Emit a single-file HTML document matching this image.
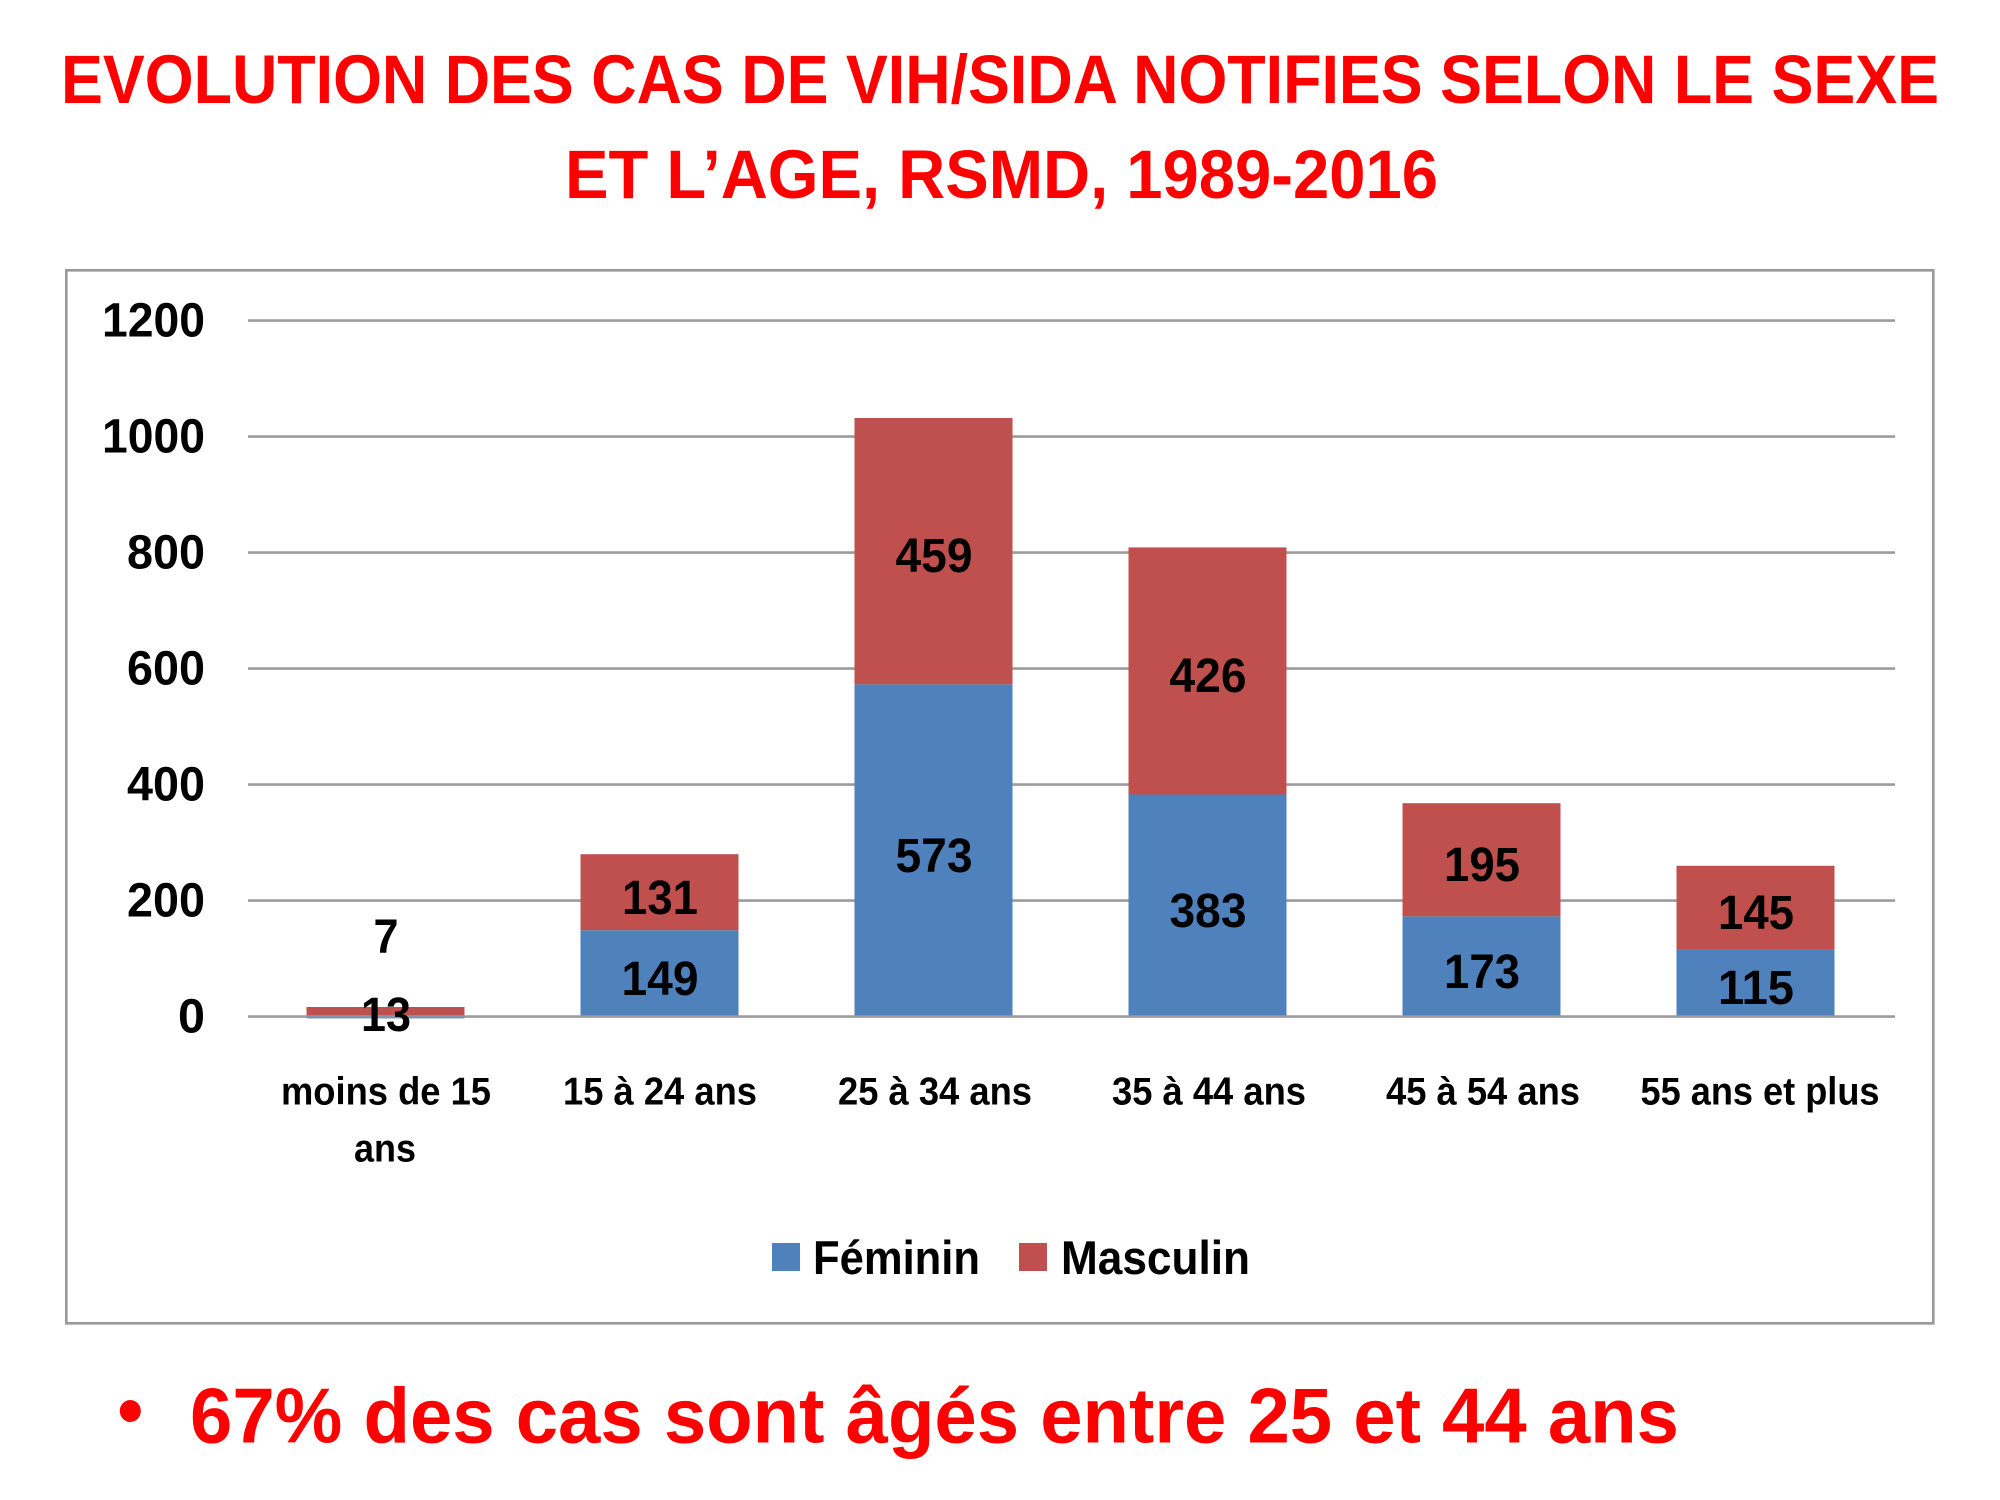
<!DOCTYPE html>
<html>
<head>
<meta charset="utf-8">
<style>
  html, body { margin: 0; padding: 0; background: #ffffff; }
  svg { display: block; }
  text { font-family: "Liberation Sans", "DejaVu Sans", sans-serif; font-weight: bold; }
</style>
</head>
<body>
<svg width="2000" height="1500" viewBox="0 0 2000 1500" xmlns="http://www.w3.org/2000/svg">
  <rect x="0" y="0" width="2000" height="1500" fill="#ffffff"/>

  <!-- Title -->
  <text x="61" y="103" font-size="69" fill="#ff0000" textLength="1878" lengthAdjust="spacingAndGlyphs">EVOLUTION DES CAS DE VIH/SIDA NOTIFIES SELON LE SEXE</text>
  <text x="565" y="198" font-size="69" fill="#ff0000" textLength="873" lengthAdjust="spacingAndGlyphs">ET L’AGE, RSMD, 1989-2016</text>

  <!-- Chart frame -->
  <rect x="66.3" y="270.3" width="1867" height="1053" fill="#ffffff" stroke="#9a9a9a" stroke-width="2.7"/>

  <!-- Gridlines -->
  <g stroke="#9b9b9b" stroke-width="2.6">
    <line x1="248" y1="320.6" x2="1895" y2="320.6"/>
    <line x1="248" y1="436.6" x2="1895" y2="436.6"/>
    <line x1="248" y1="552.6" x2="1895" y2="552.6"/>
    <line x1="248" y1="668.6" x2="1895" y2="668.6"/>
    <line x1="248" y1="784.6" x2="1895" y2="784.6"/>
    <line x1="248" y1="900.6" x2="1895" y2="900.6"/>
  </g>

  <!-- Y tick labels -->
  <g font-size="48" fill="#000000" text-anchor="end">
    <text x="205" y="336.5" textLength="103" lengthAdjust="spacingAndGlyphs">1200</text>
    <text x="205" y="452.5" textLength="103" lengthAdjust="spacingAndGlyphs">1000</text>
    <text x="205" y="568.5" textLength="78" lengthAdjust="spacingAndGlyphs">800</text>
    <text x="205" y="684.5" textLength="78" lengthAdjust="spacingAndGlyphs">600</text>
    <text x="205" y="800.5" textLength="78" lengthAdjust="spacingAndGlyphs">400</text>
    <text x="205" y="916.5" textLength="78" lengthAdjust="spacingAndGlyphs">200</text>
    <text x="205" y="1032.5" textLength="27" lengthAdjust="spacingAndGlyphs">0</text>
  </g>

  <!-- Bars -->
  <!-- moins de 15 ans -->
  <rect x="306.5" y="1007" width="158" height="9.5" fill="#C0504D"/>
  <!-- 15 a 24 -->
  <rect x="580.5" y="930.2" width="158" height="86.4" fill="#4F81BD"/>
  <rect x="580.5" y="854.2" width="158" height="76" fill="#C0504D"/>
  <!-- 25 a 34 -->
  <rect x="854.5" y="684.3" width="158" height="332.3" fill="#4F81BD"/>
  <rect x="854.5" y="418" width="158" height="266.3" fill="#C0504D"/>
  <!-- 35 a 44 -->
  <rect x="1128.5" y="794.5" width="158" height="222.1" fill="#4F81BD"/>
  <rect x="1128.5" y="547.4" width="158" height="247.1" fill="#C0504D"/>
  <!-- 45 a 54 -->
  <rect x="1402.5" y="916.3" width="158" height="100.3" fill="#4F81BD"/>
  <rect x="1402.5" y="803.2" width="158" height="113.1" fill="#C0504D"/>
  <!-- 55 et plus -->
  <rect x="1676.5" y="949.9" width="158" height="66.7" fill="#4F81BD"/>
  <rect x="1676.5" y="865.8" width="158" height="84.1" fill="#C0504D"/>

  <!-- Zero line -->
  <line x1="248" y1="1016.6" x2="1895" y2="1016.6" stroke="#9b9b9b" stroke-width="2.6"/>
  <rect x="306.5" y="1016" width="158" height="2.5" fill="#8095ad"/>

  <!-- Data labels -->
  <g font-size="48" fill="#000000" text-anchor="middle">
    <text x="386" y="953" textLength="25" lengthAdjust="spacingAndGlyphs">7</text>
    <text x="386" y="1031" textLength="50" lengthAdjust="spacingAndGlyphs">13</text>
    <text x="660" y="914" textLength="76" lengthAdjust="spacingAndGlyphs">131</text>
    <text x="660" y="995" textLength="77" lengthAdjust="spacingAndGlyphs">149</text>
    <text x="934" y="572" textLength="77" lengthAdjust="spacingAndGlyphs">459</text>
    <text x="934" y="872" textLength="77" lengthAdjust="spacingAndGlyphs">573</text>
    <text x="1208" y="692" textLength="77" lengthAdjust="spacingAndGlyphs">426</text>
    <text x="1208" y="927" textLength="77" lengthAdjust="spacingAndGlyphs">383</text>
    <text x="1482" y="881" textLength="76" lengthAdjust="spacingAndGlyphs">195</text>
    <text x="1482" y="988" textLength="76" lengthAdjust="spacingAndGlyphs">173</text>
    <text x="1756" y="929" textLength="76" lengthAdjust="spacingAndGlyphs">145</text>
    <text x="1756" y="1004" textLength="76" lengthAdjust="spacingAndGlyphs">115</text>
  </g>

  <!-- X category labels -->
  <g font-size="39" fill="#000000" text-anchor="middle">
    <text x="386" y="1104.5" textLength="210" lengthAdjust="spacingAndGlyphs">moins de 15</text>
    <text x="385" y="1161.5" textLength="62" lengthAdjust="spacingAndGlyphs">ans</text>
    <text x="660" y="1104.5" textLength="194" lengthAdjust="spacingAndGlyphs">15 à 24 ans</text>
    <text x="935" y="1104.5" textLength="194" lengthAdjust="spacingAndGlyphs">25 à 34 ans</text>
    <text x="1209" y="1104.5" textLength="194" lengthAdjust="spacingAndGlyphs">35 à 44 ans</text>
    <text x="1483" y="1104.5" textLength="194" lengthAdjust="spacingAndGlyphs">45 à 54 ans</text>
    <text x="1760" y="1104.5" textLength="239" lengthAdjust="spacingAndGlyphs">55 ans et plus</text>
  </g>

  <!-- Legend -->
  <rect x="772" y="1243" width="28" height="28" fill="#4F81BD"/>
  <text x="813" y="1274" font-size="47" fill="#000000" textLength="167" lengthAdjust="spacingAndGlyphs">Féminin</text>
  <rect x="1019" y="1243" width="28" height="28" fill="#C0504D"/>
  <text x="1061" y="1274" font-size="47" fill="#000000" textLength="189" lengthAdjust="spacingAndGlyphs">Masculin</text>

  <!-- Bottom bullet text -->
  <ellipse cx="130.3" cy="1411" rx="10.5" ry="11" fill="#ff0000"/>
  <text x="190" y="1442.5" font-size="78" fill="#ff0000" textLength="1489" lengthAdjust="spacingAndGlyphs">67% des cas sont âgés entre 25 et 44 ans</text>
</svg>
</body>
</html>
